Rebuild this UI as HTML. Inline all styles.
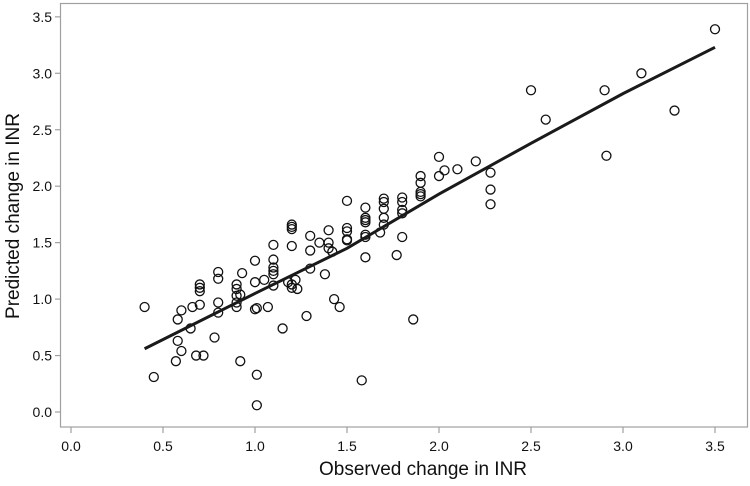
<!DOCTYPE html>
<html><head><meta charset="utf-8"><style>
html,body{margin:0;padding:0;background:#fff;}
svg{display:block;font-family:"Liberation Sans",sans-serif;}
</style></head><body>
<svg id="chart" width="750" height="486">
  <rect x="60.5" y="3.5" width="687" height="423.5" fill="#fff" stroke="#a0a0a0" stroke-width="1.2"/>
  <g id="xticks"></g>
  <g id="yticks"></g>
  <g id="marks"></g>
  <text x="423" y="475" font-size="19" text-anchor="middle" fill="#111">Observed change in INR</text>
  <text transform="translate(19,216) rotate(-90)" font-size="19" text-anchor="middle" fill="#111">Predicted change in INR</text>
</svg>
<script>
const xTicks=[0,0.5,1,1.5,2,2.5,3,3.5];
const yTicks=[0,0.5,1,1.5,2,2.5,3,3.5];
const obsX=[0.4,0.45,0.57,0.58,0.58,0.6,0.6,0.65,0.66,0.68,0.7,0.7,0.7,0.7,0.72,0.78,0.8,0.8,0.8,0.8,0.9,0.9,0.9,0.9,0.9,0.92,0.92,0.93,1.0,1.0,1.0,1.01,1.01,1.01,1.05,1.07,1.1,1.1,1.1,1.1,1.1,1.1,1.15,1.18,1.2,1.2,1.2,1.2,1.2,1.2,1.22,1.23,1.28,1.3,1.3,1.3,1.35,1.38,1.4,1.4,1.42,1.4,1.43,1.46,1.5,1.5,1.5,1.5,1.5,1.58,1.6,1.6,1.6,1.6,1.6,1.6,1.6,1.68,1.7,1.7,1.7,1.7,1.7,1.77,1.8,1.8,1.8,1.8,1.8,1.86,1.9,1.9,1.9,1.9,1.9,2.0,2.0,2.03,2.1,2.2,2.28,2.28,2.28,2.5,2.58,2.9,2.91,3.1,3.28,3.5];
const predY=[0.93,0.31,0.45,0.63,0.82,0.9,0.54,0.74,0.93,0.5,0.95,1.1,1.07,1.13,0.5,0.66,0.88,0.97,1.18,1.24,0.93,0.97,1.03,1.09,1.13,0.45,1.04,1.23,1.34,1.15,0.91,0.92,0.33,0.06,1.17,0.93,1.12,1.22,1.25,1.28,1.35,1.48,0.74,1.15,1.1,1.13,1.47,1.62,1.64,1.66,1.17,1.09,0.85,1.27,1.43,1.56,1.5,1.22,1.45,1.5,1.42,1.61,1.0,0.93,1.52,1.53,1.6,1.63,1.87,0.28,1.37,1.55,1.57,1.68,1.7,1.72,1.81,1.59,1.66,1.72,1.8,1.86,1.89,1.39,1.55,1.76,1.79,1.86,1.9,0.82,1.91,1.93,1.95,2.03,2.09,2.09,2.26,2.14,2.15,2.22,1.84,1.97,2.12,2.85,2.59,2.85,2.27,3.0,2.67,3.39];
const fitX=[0.4,1.0,1.5,2.0,2.5,3.0,3.5];
const fitY=[0.56,1.05,1.45,1.93,2.38,2.82,3.23];
const NS='http://www.w3.org/2000/svg';
function sx(v){return 71+v*184;}
function sy(v){return 412-v*112.9;}
function mk(t,a,p){const e=document.createElementNS(NS,t);for(const k in a)e.setAttribute(k,a[k]);p.appendChild(e);return e;}
const xg=document.getElementById('xticks'),yg=document.getElementById('yticks'),mg=document.getElementById('marks');
xTicks.forEach(v=>{
  const l=mk('line',{x1:sx(v),x2:sx(v),y1:427,y2:433,stroke:'#a0a0a0','stroke-width':1.2},xg);
  
  
  const t=mk('text',{x:sx(v),y:451,'font-size':14,'text-anchor':'middle',fill:'#111'},xg);
  t.textContent=v.toFixed(1);
  
  
});
yTicks.forEach(v=>{
  const l=mk('line',{x1:55,x2:60,y1:sy(v),y2:sy(v),stroke:'#a0a0a0','stroke-width':1.2},yg);
  
  
  const t=mk('text',{x:52,y:sy(v)+5,'font-size':14,'text-anchor':'end',fill:'#111'},yg);
  t.textContent=v.toFixed(1);
  
  
});
obsX.forEach((x,i)=>{
  const c=mk('circle',{cx:sx(x),cy:sy(predY[i]),r:4.5,fill:'none',stroke:'#111','stroke-width':1.3},mg);
  
  
});
const d=fitX.map((x,i)=>(i?'L':'M')+sx(x)+','+sy(fitY[i])).join(' ');
const p=mk('path',{d:d,fill:'none',stroke:'#1a1a1a','stroke-width':3},mg);


</script>
</body></html>
